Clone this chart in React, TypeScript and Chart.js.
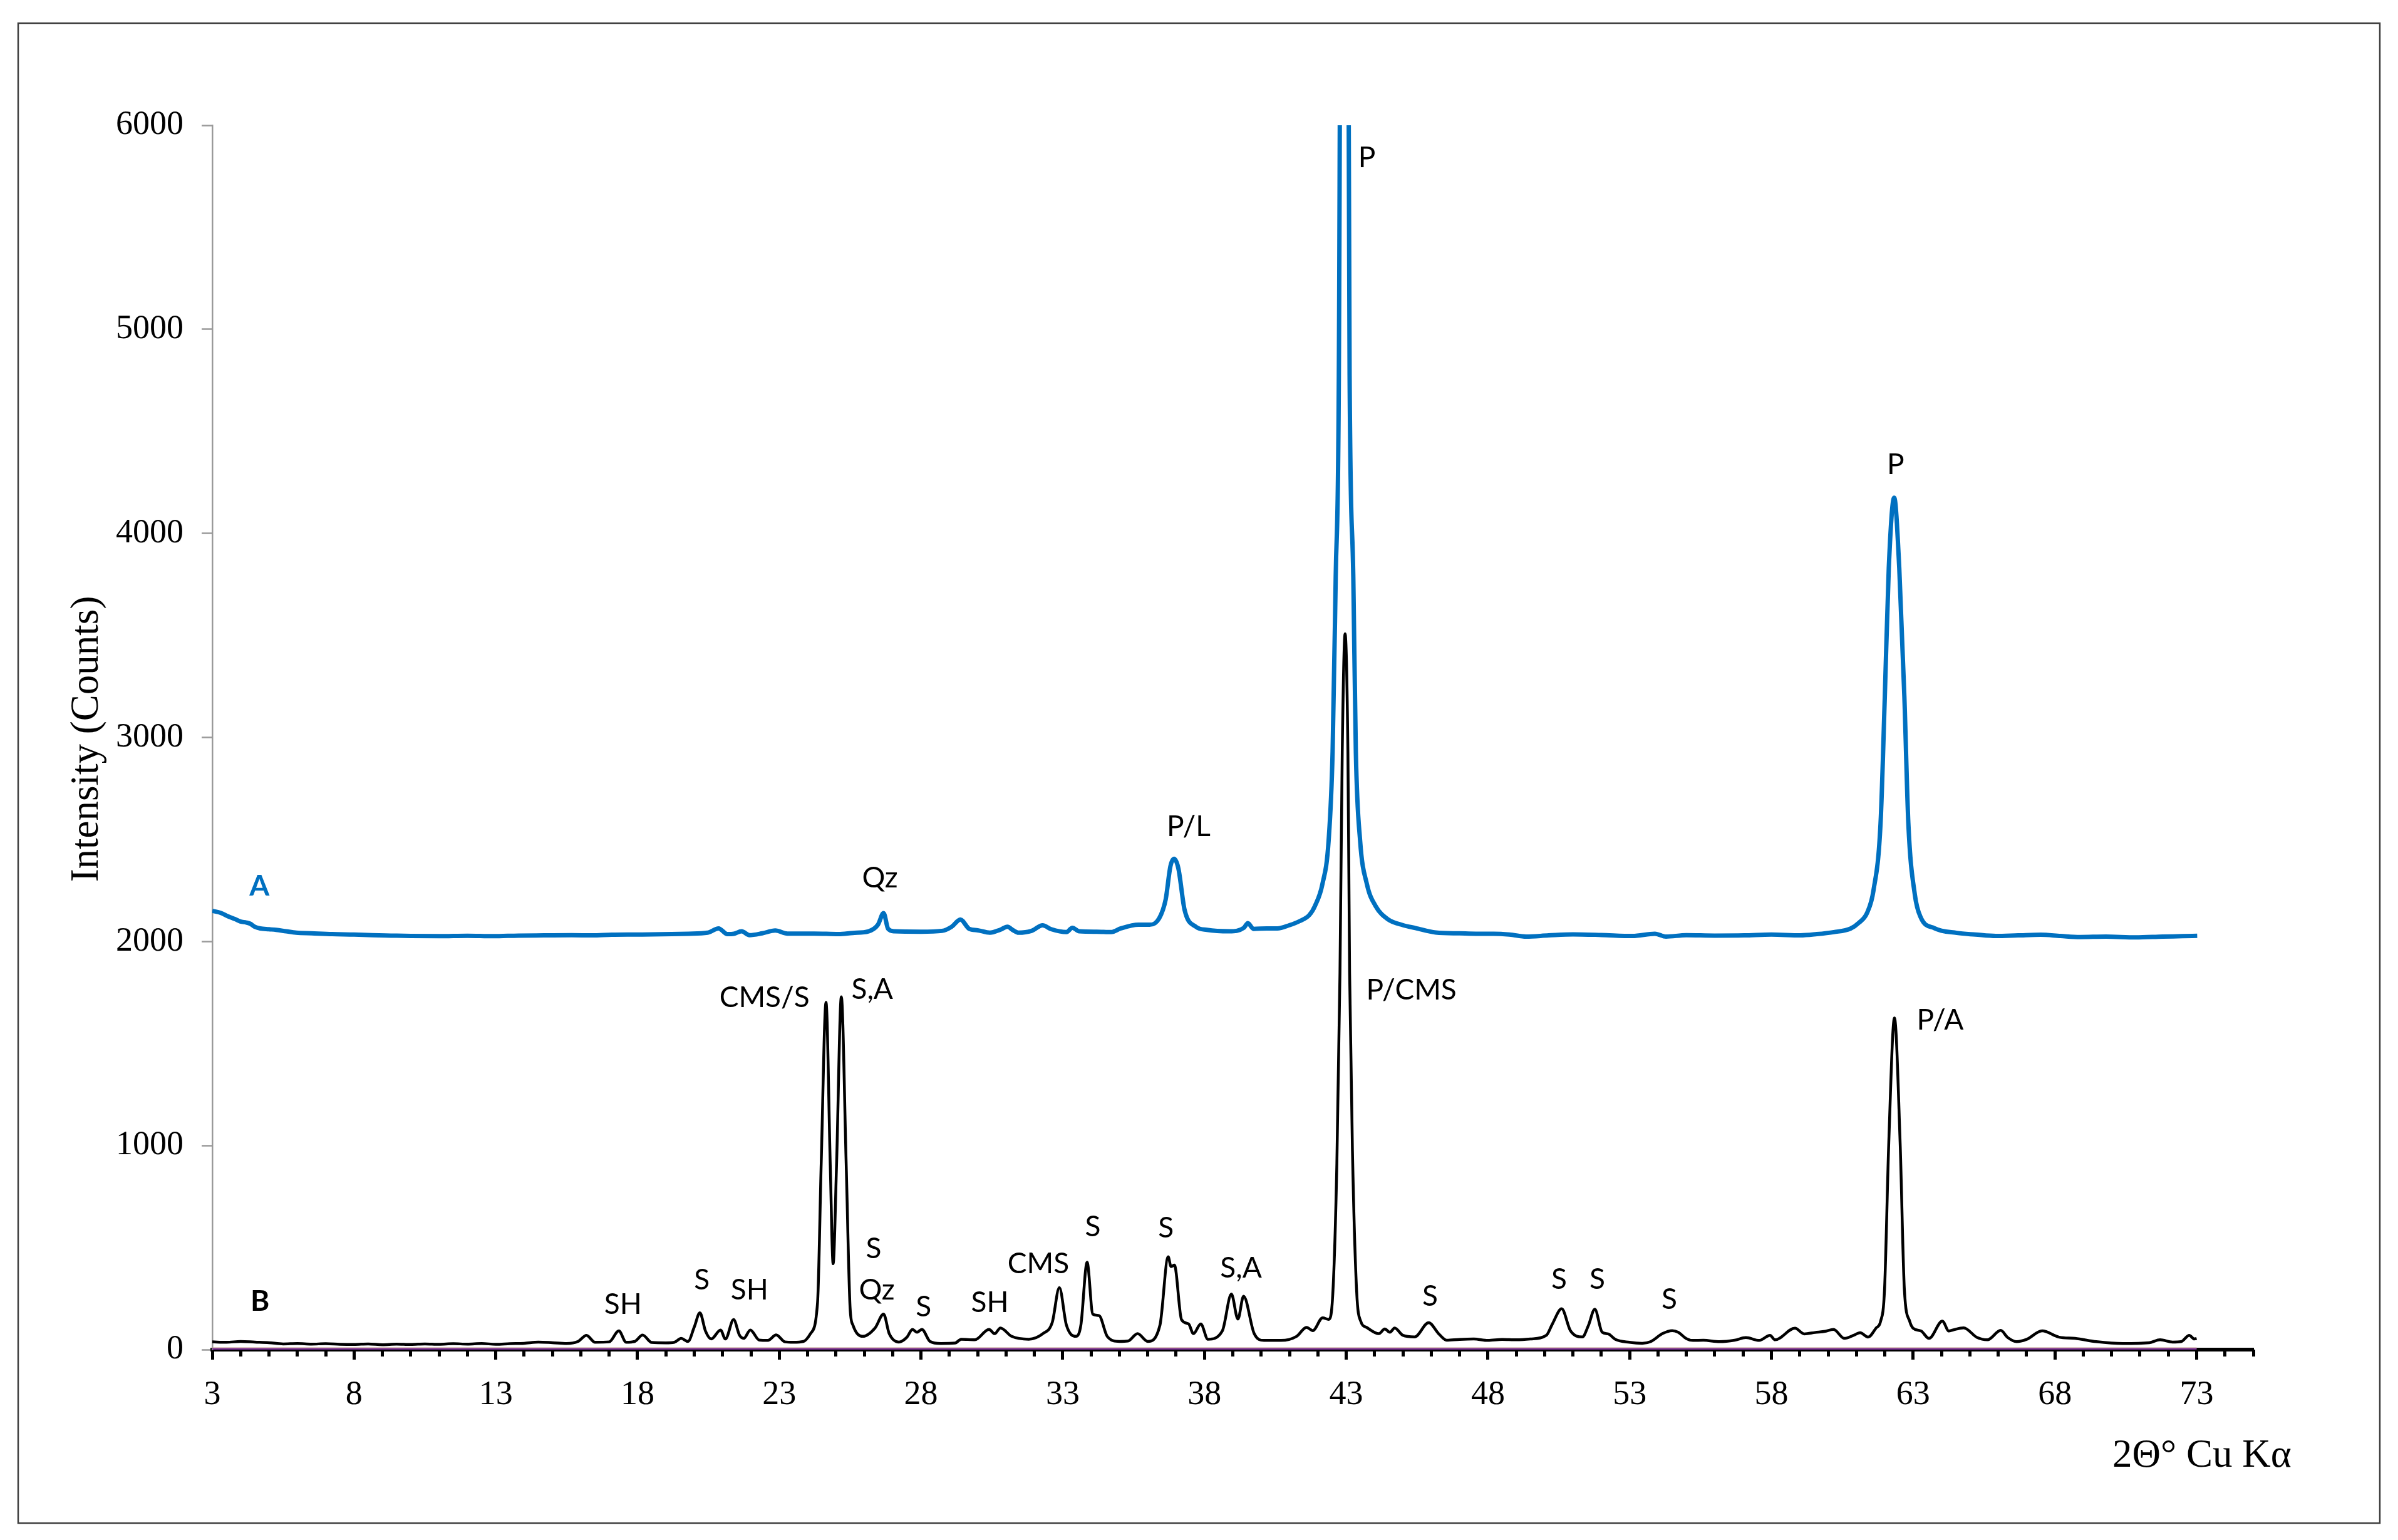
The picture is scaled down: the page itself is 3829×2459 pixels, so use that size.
import React, { useEffect, useRef } from "react";
import { Chart, registerables } from "chart.js";

Chart.register(...registerables);

const W = 3829;
const H = 2459;

// ---- axis ticks ----
const X_TICK_LABELS = [3, 8, 13, 18, 23, 28, 33, 38, 43, 48, 53, 58, 63, 68, 73];
const X_MINOR_TICKS = [3, 4, 5, 6, 7, 8, 9, 10, 11, 12, 13, 14, 15, 16, 17, 18, 19, 20, 21, 22, 23, 24, 25, 26, 27, 28, 29, 30, 31, 32, 33, 34, 35, 36, 37, 38, 39, 40, 41, 42, 43, 44, 45, 46, 47, 48, 49, 50, 51, 52, 53, 54, 55, 56, 57, 58, 59, 60, 61, 62, 63, 64, 65, 66, 67, 68, 69, 70, 71, 72, 73, 74, 75];
const Y_TICKS = [0, 1000, 2000, 3000, 4000, 5000, 6000];

// ---- pattern A (blue) ----
const A_TWO_THETA = [3.0, 3.3, 3.56, 3.8, 3.99, 4.2, 4.34, 4.5, 4.69, 5.0, 5.25, 5.6, 5.96, 6.5, 7.23, 8.0, 8.64, 9.3, 10.0, 11.0, 12.0, 12.9, 13.8, 14.7, 15.68, 16.4, 17.09, 18.0, 19.2, 19.8, 20.47, 20.86, 21.17, 21.4, 21.67, 21.95, 22.4, 22.86, 23.29, 24.23, 25.09, 25.6, 26.15, 26.48, 26.68, 26.84, 27.05, 28.0, 28.74, 29.08, 29.39, 29.7, 30.0, 30.43, 30.8, 31.05, 31.25, 31.44, 31.9, 32.29, 32.6, 33.13, 33.34, 33.58, 34.2, 34.71, 35.05, 35.67, 36.06, 36.4, 36.63, 36.8, 36.93, 37.08, 37.3, 37.7, 38.09, 38.88, 39.39, 39.53, 39.73, 40.2, 40.57, 41.0, 41.36, 41.7, 41.9, 42.16, 42.38, 42.52, 42.63, 42.74, 42.92, 43.12, 43.25, 43.34, 43.49, 43.73, 44.04, 44.48, 45.0, 45.44, 46.16, 47.0, 47.58, 48.2, 48.76, 49.35, 50.14, 51.0, 52.0, 53.1, 53.89, 54.28, 55.0, 56.0, 57.04, 58.0, 59.02, 59.6, 60.2, 60.79, 61.09, 61.38, 61.6, 61.85, 62.0, 62.14, 62.33, 62.51, 62.69, 62.83, 63.06, 63.26, 63.75, 64.54, 65.2, 65.92, 66.7, 67.5, 68.2, 68.88, 69.8, 70.85, 71.8, 72.5, 73.02];
const A_COUNTS = [2150, 2140, 2123, 2110, 2098, 2093, 2087, 2072, 2064, 2060, 2057, 2050, 2043, 2040, 2036, 2034, 2031, 2029, 2027, 2026, 2028, 2026, 2029, 2030, 2031, 2030, 2033, 2034, 2036, 2038, 2043, 2064, 2036, 2038, 2050, 2031, 2040, 2054, 2039, 2039, 2036, 2042, 2050, 2082, 2139, 2062, 2050, 2048, 2052, 2072, 2108, 2062, 2055, 2043, 2058, 2072, 2055, 2043, 2052, 2079, 2060, 2046, 2067, 2050, 2048, 2046, 2064, 2082, 2082, 2113, 2205, 2369, 2405, 2358, 2154, 2072, 2057, 2050, 2067, 2090, 2062, 2064, 2064, 2080, 2100, 2130, 2175, 2281, 2495, 2928, 3788, 4773, 12000, 4773, 3788, 2928, 2495, 2281, 2173, 2108, 2080, 2066, 2044, 2040, 2038, 2038, 2034, 2024, 2030, 2035, 2032, 2027, 2038, 2024, 2031, 2029, 2030, 2034, 2030, 2036, 2046, 2063, 2092, 2142, 2250, 2580, 3200, 3830, 4175, 3830, 3200, 2580, 2229, 2120, 2065, 2042, 2034, 2027, 2030, 2033, 2027, 2022, 2024, 2020, 2024, 2026, 2028];

// ---- pattern B (black) ----
const B_TWO_THETA = [3.0, 3.5, 4.0, 4.5, 5.0, 5.5, 6.0, 6.5, 7.0, 7.5, 8.0, 8.5, 9.0, 9.5, 10.0, 10.5, 11.0, 11.5, 12.0, 12.5, 13.0, 13.5, 14.0, 14.5, 15.0, 15.5, 15.9, 16.2, 16.5, 17.0, 17.34, 17.6, 17.9, 18.18, 18.5, 19.0, 19.3, 19.54, 19.78, 20.0, 20.2, 20.4, 20.6, 20.93, 21.1, 21.39, 21.6, 21.75, 21.98, 22.29, 22.6, 22.89, 23.2, 23.5, 23.85, 24.1, 24.35, 24.48, 24.65, 24.8, 24.9, 25.02, 25.19, 25.36, 25.5, 25.6, 25.95, 26.38, 26.68, 26.88, 27.22, 27.5, 27.7, 27.86, 28.03, 28.32, 28.7, 29.2, 29.42, 29.9, 30.4, 30.6, 30.8, 31.2, 31.8, 32.3, 32.63, 32.88, 33.13, 33.47, 33.64, 33.86, 34.06, 34.28, 34.57, 35.0, 35.3, 35.64, 36.0, 36.43, 36.72, 36.82, 36.94, 37.19, 37.44, 37.61, 37.87, 38.12, 38.63, 38.95, 39.18, 39.38, 39.75, 40.1, 40.7, 41.25, 41.6, 41.82, 42.17, 42.38, 42.53, 42.67, 42.78, 42.86, 42.96, 43.06, 43.12, 43.23, 43.37, 43.51, 43.72, 44.15, 44.36, 44.54, 44.71, 45.0, 45.41, 45.91, 46.26, 46.54, 47.0, 47.5, 48.0, 48.5, 49.0, 49.5, 50.06, 50.27, 50.6, 50.91, 51.33, 51.54, 51.77, 52.03, 52.24, 52.5, 52.99, 53.44, 53.74, 54.15, 54.5, 54.71, 55.0, 55.23, 55.6, 56.17, 56.7, 57.1, 57.57, 57.95, 58.13, 58.83, 59.16, 59.54, 59.9, 60.19, 60.57, 60.9, 61.13, 61.41, 61.7, 61.85, 61.99, 62.14, 62.34, 62.54, 62.69, 62.88, 63.0, 63.28, 63.56, 64.03, 64.26, 64.4, 64.78, 65.25, 65.62, 66.09, 66.33, 66.65, 67.0, 67.55, 68.15, 68.71, 69.46, 70.4, 71.33, 71.71, 72.15, 72.45, 72.74, 72.92, 73.0];
const B_COUNTS = [38, 36, 40, 37, 34, 28, 30, 27, 29, 26, 25, 28, 24, 27, 25, 28, 26, 29, 27, 30, 26, 29, 31, 37, 34, 30, 40, 70, 36, 38, 92, 36, 40, 71, 35, 33, 36, 55, 40, 110, 180, 90, 52, 96, 52, 147, 70, 55, 96, 47, 45, 72, 38, 36, 40, 78, 229, 914, 1702, 900, 421, 900, 1729, 914, 202, 120, 65, 106, 174, 78, 37, 60, 99, 85, 99, 40, 30, 32, 51, 48, 99, 78, 106, 65, 51, 78, 133, 304, 120, 65, 120, 428, 174, 167, 65, 40, 42, 78, 40, 120, 455, 407, 414, 147, 126, 78, 126, 51, 92, 272, 150, 262, 80, 45, 45, 65, 109, 93, 156, 148, 281, 910, 1847, 2928, 3508, 2928, 1847, 910, 281, 140, 109, 78, 101, 85, 106, 70, 62, 132, 78, 46, 50, 52, 45, 50, 48, 52, 70, 125, 200, 93, 62, 117, 198, 85, 77, 50, 36, 31, 39, 78, 93, 85, 54, 45, 46, 39, 46, 59, 45, 70, 48, 105, 77, 84, 90, 99, 55, 70, 83, 61, 107, 138, 294, 1015, 1625, 1015, 294, 138, 105, 91, 55, 140, 91, 96, 107, 60, 48, 94, 60, 39, 50, 92, 61, 55, 39, 30, 34, 48, 37, 39, 70, 52, 55];

// ---- flat base lines along the axis ----
const BASE_TWO_THETA = [3, 73];
const BASE_PURPLE = [0, 0];
const BASE_BROWN = [8, 8];

// ---- peak labels (text, 2θ, counts at text centre) ----
const PEAK_TEXT = ["A", "B", "SH", "S", "SH", "CMS/S", "S,A", "S", "Qz", "S", "SH", "CMS", "S", "S", "S,A", "P/CMS", "S", "S", "S", "S", "P/A", "P", "P", "P/L", "Qz"];
const PEAK_X = [4.66, 4.68, 17.49, 20.27, 21.95, 22.48, 26.28, 26.33, 26.44, 28.09, 30.43, 32.14, 34.06, 36.64, 39.29, 45.3, 45.96, 50.51, 51.86, 54.4, 63.95, 62.38, 43.73, 37.44, 26.55];
const PEAK_Y = [2277, 242, 227, 344, 295, 1731, 1771, 500, 295, 215, 236, 424, 605, 599, 405, 1765, 267, 347, 347, 249, 1618, 4340, 5844, 2566, 2317];

const SERIF = '"Liberation Serif", "Times New Roman", serif';
const SANS = 'Lato, "Noto Sans", sans-serif';

function zip(xs: number[], ys: number[]) {
  return xs.map((x, i) => ({ x, y: ys[i] }));
}

const overlayPlugin = {
  id: "overlay",
  afterDatasetsDraw(chart: any) {
    const ctx = chart.ctx as CanvasRenderingContext2D;
    const xs = chart.scales.x;
    const ys = chart.scales.y;
    ctx.save();
    ctx.textAlign = "center";
    ctx.textBaseline = "alphabetic";
    const size = 46;
    for (let i = 0; i < PEAK_TEXT.length; i++) {
      const t = PEAK_TEXT[i];
      const px = xs.getPixelForValue(PEAK_X[i]);
      const py = ys.getPixelForValue(PEAK_Y[i]);
      const bold = i < 2;
      ctx.font = `${bold ? "bold " : ""}${size}px ${SANS}`;
      ctx.fillStyle = i === 0 ? "#0070C0" : "#000000";
      ctx.fillText(t, px, py + size * 0.36);
    }
    ctx.restore();
  },
  afterDraw(chart: any) {
    const ctx = chart.ctx as CanvasRenderingContext2D;
    ctx.save();
    // outer frame
    ctx.strokeStyle = "#3f3f3f";
    ctx.lineWidth = 2.5;
    ctx.strokeRect(29, 37, 3800 - 29, 2432 - 37);
    // axis titles
    ctx.fillStyle = "#000";
    ctx.font = `63px ${SERIF}`;
    ctx.textAlign = "left";
    ctx.textBaseline = "alphabetic";
    ctx.fillText("2Θ° Cu Kα", 3373, 2342);
    ctx.translate(139, 1180);
    ctx.rotate(-Math.PI / 2);
    ctx.textAlign = "center";
    ctx.textBaseline = "middle";
    ctx.fillText("Intensity (Counts)", 0, 0);
    ctx.restore();
  },
};

export default function App() {
  const ref = useRef<HTMLCanvasElement | null>(null);

  useEffect(() => {
    document.body.style.overflow = "hidden";
    const canvas = ref.current;
    if (!canvas) return;
    const chart = new Chart(canvas, {
      type: "line",
      data: {
        datasets: [
          {
            label: "base-purple",
            data: zip(BASE_TWO_THETA, BASE_PURPLE),
            borderColor: "#7B2D9B",
            borderWidth: 4,
            pointRadius: 0,
            order: 0,
          },
          {
            label: "base-brown",
            data: zip(BASE_TWO_THETA, BASE_BROWN),
            borderColor: "#B9928A",
            borderWidth: 2,
            pointRadius: 0,
            order: 1,
          },
          {
            label: "B",
            data: zip(B_TWO_THETA, B_COUNTS),
            borderColor: "#000000",
            borderWidth: 4.5,
            pointRadius: 0,
            cubicInterpolationMode: "monotone",
            borderJoinStyle: "round",
            order: 2,
          },
          {
            label: "A",
            data: zip(A_TWO_THETA, A_COUNTS),
            borderColor: "#0070C0",
            borderWidth: 7,
            pointRadius: 0,
            cubicInterpolationMode: "monotone",
            borderJoinStyle: "round",
            order: 3,
          },
        ],
      },
      options: {
        responsive: false,
        animation: false,
        events: [],
        layout: { padding: { left: 0, right: W - 3598, top: 200, bottom: 0 } },
        plugins: {
          legend: { display: false },
          tooltip: { enabled: false },
          title: { display: false },
        },
        scales: {
          xm: {
            type: "linear",
            position: "bottom",
            min: 3,
            max: 75,
            weight: 0,
            afterBuildTicks: (s: any) => {
              s.ticks = X_MINOR_TICKS.map((v) => ({ value: v }));
            },
            afterFit: (s: any) => {
              s.height = 0;
            },
            ticks: { display: false },
            border: { display: false },
            grid: {
              drawOnChartArea: false,
              drawTicks: true,
              tickLength: 11,
              tickWidth: 5,
              tickColor: "#000000",
            },
          },
          x: {
            type: "linear",
            position: "bottom",
            min: 3,
            max: 75,
            weight: 1,
            afterBuildTicks: (s: any) => {
              s.ticks = X_TICK_LABELS.map((v) => ({ value: v }));
            },
            afterFit: (s: any) => {
              s.height = H - 2155;
            },
            ticks: {
              color: "#000",
              font: { family: SERIF, size: 54 },
              padding: 24,
              maxRotation: 0,
              autoSkip: false,
              callback: (v: any) => String(v),
            },
            border: { display: true, color: "#000000", width: 6 },
            grid: {
              drawOnChartArea: false,
              drawTicks: true,
              tickLength: 16,
              tickWidth: 5,
              tickColor: "#000000",
            },
          },
          y: {
            type: "linear",
            position: "left",
            min: 0,
            max: 6000,
            afterBuildTicks: (s: any) => {
              s.ticks = Y_TICKS.map((v) => ({ value: v }));
            },
            afterFit: (s: any) => {
              s.width = 339;
            },
            ticks: {
              color: "#000",
              font: { family: SERIF, size: 54 },
              padding: 29,
              callback: (v: any) => String(v),
            },
            border: { display: true, color: "#9a9a9a", width: 2.5 },
            grid: {
              drawOnChartArea: false,
              drawTicks: true,
              tickLength: 17,
              tickWidth: 2.5,
              tickColor: "#9a9a9a",
            },
          },
        },
      },
      plugins: [overlayPlugin],
    } as any);
    return () => chart.destroy();
  }, []);

  return (
    <div style={{ position: "absolute", left: 0, top: 0, width: W, height: H, background: "#fff" }}>
      <canvas ref={ref} width={W} height={H} style={{ display: "block", width: W, height: H }} />
    </div>
  );
}
